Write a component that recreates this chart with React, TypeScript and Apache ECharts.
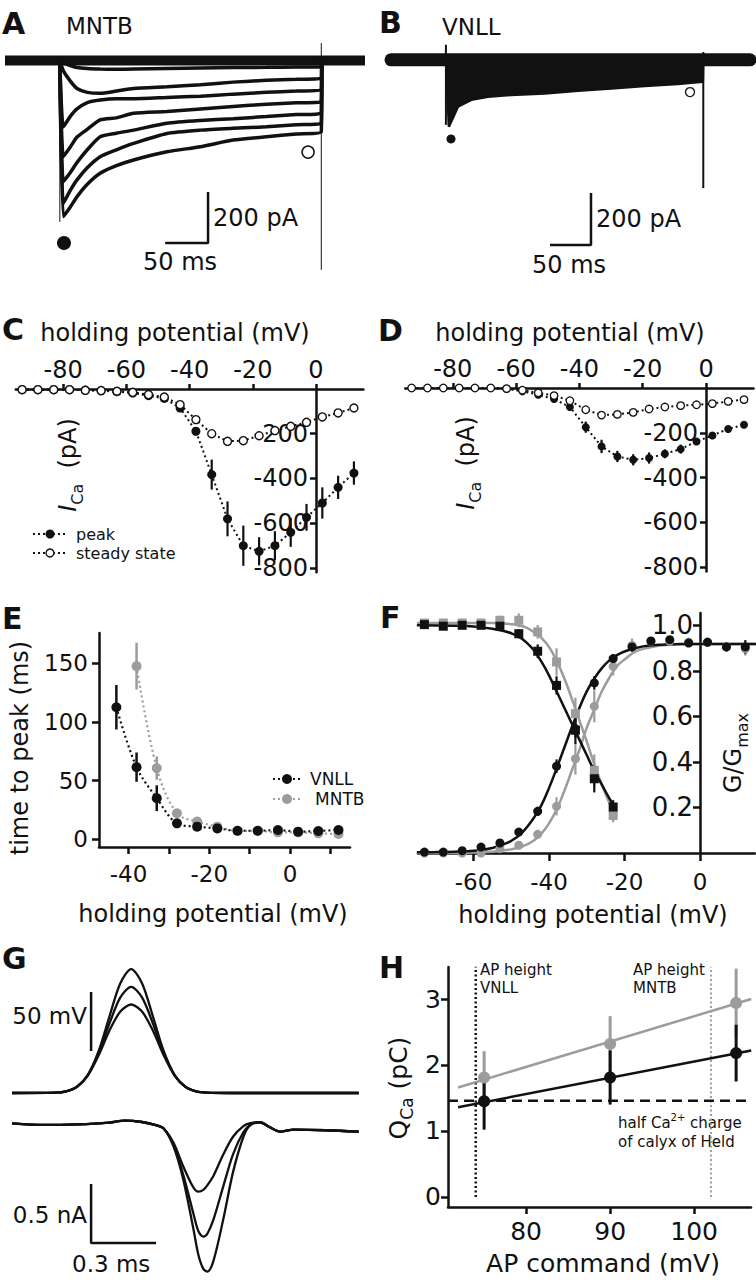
import React, { useEffect, useRef } from "react";
import * as echarts from "echarts";

const FONT = "DejaVu Sans";
const BLACK = "#111111";
const GRAY = "#9c9c9c";

// ---------- Panel A: MNTB current traces (ms, pA) ----------
const aStepTimes = [64, 68, 76, 84, 96, 111, 130, 150, 189, 228, 266, 305, 340, 369];
const aTrace1 = [0, -10, -20, -28, -32, -34, -35, -34, -32, -30, -28, -27, -26, -25];
const aTrace2 = [0, -40, -80, -110, -125, -129, -120, -110, -103, -95, -85, -78, -74, -70];
const aTrace3 = [0, -260, -220, -190, -165, -155, -150, -150, -145, -140, -132, -125, -120, -116];
const aTrace4 = [0, -377, -340, -300, -270, -233, -225, -207, -200, -190, -180, -172, -166, -162];
const aTrace5 = [0, -475, -440, -400, -350, -299, -285, -273, -246, -235, -228, -220, -212, -207];
const aTrace6 = [0, -560, -510, -468, -420, -377, -350, -325, -286, -273, -266, -260, -252, -246];
const aTrace7 = [0, -612, -575, -534, -485, -442, -412, -390, -358, -338, -312, -299, -288, -279];
const aBaseT = [0, 420];
const aOffArtifactI = [68, -820];
const aPeakMark = [68.8, -715];
const aSteadyMark = [353.6, -359];
const aScaleT = [186.9, 236.9, 236.9];
const aScaleI = [-715, -715, -515];

// ---------- Panel B: VNLL current traces ----------
const bEnvT = [67, 70.6, 81.7, 98, 118.4, 146.8, 187.6, 228.2, 268.9, 309.5, 350, 380.5, 381];
const bEnvI = [0, -257, -180, -154, -142, -135, -129, -119, -110, -101, -93, -84, 0];
const bGapT = [70.6, 133, 70.6];
const bGapI = [-40, -40, -90];
const bBaseT = [0, 438];
const bOnArtifactI = [58, -250];
const bOffArtifactI = [30, -493];
const bOnT = 67;
const bOffT = 381;
const bPeakMark = [73.2, -304];
const bSteadyMark = [364.8, -124];
const bScaleT = [194, 244, 244];
const bScaleI = [-712, -712, -512];

// ---------- Panels C / D: I-V curves ----------
const ivV = [-93, -88, -83, -78, -73, -68, -63, -58, -53, -48, -43, -38, -33, -28, -23, -18, -13, -8, -3, 2, 7, 12];
const cSteady = [-3, -3, -3, -3, -6, -7, -10, -15, -25, -36, -70, -137, -200, -234, -231, -209, -186, -167, -149, -125, -107, -85];
const cPeak = [-3, -3, -3, -3, -5, -8, -12, -18, -30, -42, -85, -189, -383, -581, -701, -726, -701, -641, -574, -510, -440, -376];
const cPeakErr = [0, 0, 0, 0, 0, 0, 0, 0, 0, 0, 10, 18, 67, 78, 90, 63, 65, 65, 60, 70, 52, 52];
const dSteady = [0, 0, 0, 0, 0, 0, -3, -10, -22, -34, -57, -97, -121, -118, -109, -94, -85, -79, -75, -70, -60, -52];
const dPeak = [0, 0, 0, 0, 0, 0, -3, -15, -30, -49, -85, -175, -261, -306, -321, -313, -294, -273, -239, -212, -183, -164];
const dPeakErr = [0, 0, 0, 0, 0, 0, 0, 0, 0, 0, 10, 25, 30, 25, 25, 25, 20, 20, 15, 15, 10, 10];
const ivTicks = [-80, -60, -40, -20, 0];
const ivYTicks = [-200, -400, -600, -800];

// ---------- Panel E: time to peak ----------
const eVnllV = [-43, -38, -33, -28, -23, -18, -13, -8, -3, 2, 7, 12];
const eVnll = [112.6, 61.4, 34.9, 13.4, 10.6, 9.1, 7.1, 7.1, 7.7, 6.3, 6.9, 7.7];
const eVnllErr = [19, 12.5, 11, 2, 2, 1, 1, 1, 1, 1, 1, 1];
const eMntbV = [-38, -33, -28, -23, -18, -13, -8, -3, 2, 7, 12];
const eMntb = [147.7, 60.6, 22, 14.9, 10.6, 7, 7, 5.7, 5.7, 4.9, 4.3];
const eMntbErr = [20, 10, 3, 2, 2, 1, 1, 1, 1, 1, 1];
const eXLabels = [-40, -20, 0];
const eXTicks = [-40, -30, -20, -10, 0, 10];
const eYTicks = [0, 50, 100, 150];

// ---------- Panel F: activation / inactivation ----------
const fActV = [-73, -68, -63, -58, -53, -48, -43, -38, -33, -28, -23, -18, -13, -8, -3, 2, 7, 12];
const fActVnll = [0.004, 0.004, 0.01, 0.026, 0.044, 0.092, 0.183, 0.381, 0.546, 0.747, 0.854, 0.905, 0.931, 0.937, 0.922, 0.925, 0.905, 0.905];
const fActVnllErr = [0, 0, 0, 0, 0, 0.01, 0.02, 0.03, 0.04, 0.03, 0.02, 0.02, 0.01, 0.01, 0.01, 0.01, 0.02, 0.03];
const fActMntb = [0, 0, 0, 0, 0.019, 0.034, 0.082, 0.205, 0.414, 0.644, 0.82, 0.912, 0.93, 0.93, 0.927, 0.927, 0.905, 0.897];
const fActMntbErr = [0, 0, 0, 0, 0, 0.01, 0.02, 0.04, 0.07, 0.07, 0.04, 0.03, 0.02, 0.02, 0.01, 0.02, 0.02, 0.03];
const fInactV = [-73, -68, -63, -58, -53, -48, -43, -38, -33, -28, -23];
const fInactVnll = [1.003, 0.996, 1.0, 1.0, 0.996, 0.963, 0.886, 0.736, 0.539, 0.326, 0.202];
const fInactVnllErr = [0, 0, 0, 0, 0.01, 0.02, 0.03, 0.04, 0.06, 0.06, 0.03];
const fInactMntb = [1.01, 1.01, 1.01, 1.01, 1.022, 1.022, 0.971, 0.839, 0.612, 0.363, 0.165];
const fInactMntbErr = [0, 0, 0, 0, 0.02, 0.03, 0.03, 0.06, 0.07, 0.07, 0.03];
const fFitActV = [-75, -70, -65, -60, -55, -50, -47, -44, -42, -40, -38, -36, -34, -32, -30, -28, -26, -24, -22, -20, -17, -14, -10, -5, 0, 5, 10, 15];
const fFitActVnll = [0.003, 0.004, 0.006, 0.01, 0.022, 0.053, 0.092, 0.155, 0.21, 0.285, 0.37, 0.46, 0.55, 0.635, 0.71, 0.766, 0.812, 0.846, 0.869, 0.885, 0.9, 0.91, 0.915, 0.918, 0.918, 0.918, 0.918, 0.918];
const fFitActMntb = [0, 0, 0, 0.002, 0.005, 0.016, 0.029, 0.055, 0.085, 0.13, 0.19, 0.27, 0.36, 0.45, 0.55, 0.63, 0.71, 0.77, 0.82, 0.85, 0.885, 0.9, 0.912, 0.917, 0.918, 0.918, 0.918, 0.918];
const fFitInactV = [-75, -65, -60, -55, -52, -50, -48, -46, -44, -42, -40, -38, -36, -34, -32, -30, -28, -26, -24, -22.5];
const fFitInactVnll = [1.0, 0.998, 0.995, 0.985, 0.975, 0.965, 0.95, 0.925, 0.89, 0.84, 0.78, 0.71, 0.64, 0.57, 0.5, 0.43, 0.36, 0.3, 0.24, 0.2];
const fFitInactMntb = [1.01, 1.01, 1.01, 1.01, 1.008, 1.005, 1.0, 0.99, 0.97, 0.945, 0.905, 0.845, 0.77, 0.68, 0.585, 0.49, 0.39, 0.3, 0.22, 0.17];
const fXTicks = [-60, -40, -20, 0];
const fYTicks = [0.2, 0.4, 0.6, 0.8, 1.0];

// ---------- Panel G: AP commands and Ca currents ----------
const gApT = [0, 0.2, 0.25, 0.3, 0.35, 0.4, 0.45, 0.5, 0.55, 0.6, 0.65, 0.7, 0.75, 0.8, 0.85, 0.9, 1.0, 1.6];
const gAp105 = [0, 0.3, 1.4, 5.3, 15.4, 35.6, 65, 93, 105, 93, 65, 35.6, 15.4, 5.3, 1.4, 0.3, 0, 0];
const gAp90 = [0, 0.3, 1.4, 5.3, 15.2, 34, 59, 81, 90, 81, 59, 34, 15.2, 5.3, 1.4, 0.3, 0, 0];
const gAp75 = [0, 0.3, 1.4, 5.2, 14.8, 32, 53, 69, 75, 69, 53, 32, 14.8, 5.2, 1.4, 0.3, 0, 0];
const gCaT = [0, 0.15, 0.3, 0.45, 0.52, 0.6, 0.66, 0.7, 0.745, 0.79, 0.837, 0.86, 0.883, 0.902, 0.93, 0.975, 1.02, 1.068, 1.1, 1.144, 1.19, 1.237, 1.3, 1.45, 1.6];
const gCaSmall = [0.014, 0, 0.005, 0.02, 0.037, 0.025, 0, -0.03, -0.15, -0.35, -0.53, -0.565, -0.55, -0.51, -0.43, -0.25, -0.1, -0.01, 0.015, 0.023, -0.02, -0.057, -0.04, -0.045, -0.057];
const gCaMid = [0.014, 0, 0.005, 0.02, 0.037, 0.025, 0, -0.03, -0.17, -0.42, -0.75, -0.9, -0.947, -0.92, -0.8, -0.52, -0.25, -0.06, 0, 0.023, -0.02, -0.057, -0.04, -0.045, -0.057];
const gCaBig = [0.014, 0, 0.005, 0.02, 0.037, 0.025, 0, -0.03, -0.18, -0.46, -0.88, -1.1, -1.22, -1.243, -1.15, -0.8, -0.4, -0.1, 0, 0.023, -0.02, -0.057, -0.04, -0.045, -0.057];
const gApScaleT = [0.365, 0.365];
const gApScaleV = [85.6, 35.6];
const gCaScaleT = [0.365, 0.365, 0.665];
const gCaScaleI = [-0.5, -1.0, -1.0];

// ---------- Panel H: Ca charge vs AP command ----------
const hCmd = [75, 90, 105];
const hMntb = [1.81, 2.32, 2.94];
const hMntbErr = [0.4, 0.42, 0.52];
const hVnll = [1.45, 1.81, 2.18];
const hVnllErr = [0.43, 0.41, 0.43];
const hFitX = [71.9, 106.8];
const hFitMntb = [1.66, 3.0];
const hFitVnll = [1.36, 2.22];
const hHalfX = [70.7, 106.8];
const hHalfCharge = [1.46, 1.46];
const hApHeightVnll = 74;
const hApHeightMntb = 102;
const hApLineY = [0, 3.49];
const hXTicks = [80, 90, 100];
const hYTicks = [0, 1, 2, 3];

const zip = (xs: number[], ys: number[]) => xs.map((x, i) => [x, ys[i]]);
const errData = (xs: number[], ys: number[], es: number[]) =>
  xs.map((x, i) => [x, ys[i] - es[i], ys[i] + es[i], es[i]]).filter((d) => d[3] > 0);

const lineS = (idx: number, data: any[], color: string, width: number, extra: any = {}) => ({
  type: "line",
  xAxisIndex: idx,
  yAxisIndex: idx,
  data,
  symbol: "none",
  silent: true,
  clip: false,
  lineStyle: { color, width, ...(extra.lineStyle || {}) },
  ...Object.fromEntries(Object.entries(extra).filter(([k]) => k !== "lineStyle")),
});

const errS = (idx: number, data: any[], color: string, width: number) => ({
  type: "custom",
  xAxisIndex: idx,
  yAxisIndex: idx,
  data,
  silent: true,
  encode: { x: 0, y: [1, 2] },
  renderItem: (_p: any, api: any) => {
    const a = api.coord([api.value(0), api.value(1)]);
    const b = api.coord([api.value(0), api.value(2)]);
    return { type: "line", shape: { x1: a[0], y1: a[1], x2: b[0], y2: b[1] }, style: { stroke: color, lineWidth: width } };
  },
});

const markerLine = (idx: number, data: any[], opts: any) => ({
  type: "line",
  xAxisIndex: idx,
  yAxisIndex: idx,
  data,
  silent: true,
  clip: false,
  symbol: opts.symbol || "circle",
  symbolSize: opts.size,
  showSymbol: true,
  itemStyle: { color: opts.fill, borderColor: opts.stroke || opts.fill, borderWidth: opts.bw || 0 },
  lineStyle: opts.line ? { color: opts.line, width: opts.lw || 2, type: opts.dash || "solid" } : { width: 0, opacity: 0 },
  smooth: opts.smooth || false,
});

const hidden = (gridIndex: number, min: number, max: number) => ({ type: "value", gridIndex, min, max, show: false });

const axisLineStyle = { color: BLACK, width: 2.5 };
const shownAxis = (gridIndex: number, min: number, max: number, o: any) => ({
  type: "value",
  gridIndex,
  min,
  max,
  position: o.position,
  splitLine: { show: false },
  axisLine: { show: true, onZero: false, lineStyle: axisLineStyle },
  axisTick: { show: true, length: o.tickLen || 6, customValues: o.ticks, lineStyle: { color: BLACK, width: 2.5 } },
  axisLabel: {
    show: true,
    customValues: o.labels || o.ticks,
    color: BLACK,
    fontFamily: FONT,
    fontSize: o.fontSize || 24,
    margin: o.margin || 8,
    formatter: o.formatter,
  },
});

const txt = (x: number, y: number, text: string, fontSize: number, extra: any = {}, el: any = {}) => ({
  type: "text",
  x,
  y,
  silent: true,
  ...el,
  style: { text, fontSize, fontFamily: FONT, fill: BLACK, align: "left", verticalAlign: "middle", ...extra },
});

const letter = (x: number, y: number, t: string) => txt(x, y, t, 30, { fontWeight: "bold" });

const subRich = (size: number) => ({
  i: { fontSize: size, fontStyle: "italic", fontFamily: FONT, lineHeight: 34, verticalAlign: "middle", fill: BLACK },
  n: { fontSize: size, fontFamily: FONT, lineHeight: 34, verticalAlign: "middle", fill: BLACK },
  s: { fontSize: Math.round(size * 0.68), fontFamily: FONT, lineHeight: 34, verticalAlign: "bottom", fill: BLACK },
});

export default function App() {
  const ref = useRef<HTMLDivElement>(null);
  useEffect(() => {
    if (!ref.current) return;
    const chart = echarts.init(ref.current, undefined, { renderer: "svg" });

    const grid = [
      { left: 5, top: 40, width: 360, height: 240 }, // 0 A
      { left: 391, top: 39, width: 359, height: 242 }, // 1 B
      { left: 15.8, top: 389, width: 347.6, height: 183.3 }, // 2 C
      { left: 405.3, top: 388, width: 348.2, height: 183.5 }, // 3 D
      { left: 99, top: 633, width: 251, height: 214 }, // 4 E
      { left: 418, top: 613, width: 337, height: 240 }, // 5 F
      { left: 12, top: 960, width: 346.7, height: 140 }, // 6 G AP
      { left: 12, top: 1105, width: 346.7, height: 175 }, // 7 G current
      { left: 448, top: 967, width: 303, height: 240 }, // 8 H
      { left: 316, top: 389, width: 40, height: 183.3 }, // 9 C y-axis at V = 0
      { left: 706, top: 388, width: 40, height: 183.5 }, // 10 D y-axis at V = 0
      { left: 700, top: 613, width: 50, height: 240 }, // 11 F y-axis at V = 0
    ];

    const xAxis = [
      hidden(0, 0, 420),
      hidden(1, 0, 438),
      shownAxis(2, -95, 15, { position: "top", ticks: ivTicks, margin: 7, tickLen: 5 }),
      shownAxis(3, -95, 15, { position: "top", ticks: ivTicks, margin: 7, tickLen: 5 }),
      shownAxis(4, -47.3, 14.85, { position: "bottom", ticks: eXTicks, labels: eXLabels, fontSize: 23, margin: 15, tickLen: 7 }),
      shownAxis(5, -74.7, 14.57, { position: "bottom", ticks: fXTicks, fontSize: 23, margin: 17, tickLen: 8 }),
      hidden(6, 0, 1.6),
      hidden(7, 0, 1.6),
      shownAxis(8, 70.7, 106.77, { position: "bottom", ticks: hXTicks, fontSize: 25, margin: 12, tickLen: 7 }),
      hidden(9, 0, 1),
      hidden(10, 0, 1),
      hidden(11, 0, 1),
    ];
    const yAxis = [
      hidden(0, -860, 80),
      hidden(1, -850, 80),
      hidden(2, -820, 0),
      hidden(3, -820, 0),
      shownAxis(4, -6.8, 176, { position: "left", ticks: eYTicks, fontSize: 23, margin: 11, tickLen: 7 }),
      hidden(5, 0, 1.054),
      hidden(6, -5.93, 112.7),
      hidden(7, -1.314, 0.169),
      shownAxis(8, -0.152, 3.485, { position: "left", ticks: hYTicks, fontSize: 25, margin: 7, tickLen: 7 }),
      shownAxis(9, -820, 0, { position: "left", ticks: ivYTicks, margin: 8 }),
      shownAxis(10, -820, 0, { position: "left", ticks: ivYTicks, margin: 8 }),
      shownAxis(11, 0, 1.054, { position: "left", ticks: fYTicks, fontSize: 26, margin: 7, tickLen: 7, formatter: (v: number) => v.toFixed(1) }),
    ];

    const dotted = [2, 3];
    const series: any[] = [];

    // ----- A -----
    series.push(lineS(0, zip(aBaseT, [0, 0]), BLACK, 10));
    [aTrace1, aTrace2, aTrace3, aTrace4, aTrace5, aTrace6, aTrace7].forEach((tr) => {
      series.push(lineS(0, zip(aStepTimes, tr).concat([[aStepTimes[aStepTimes.length - 1] + 0.5, 0]]), BLACK, 3.5, { smooth: 0.2 }));
    });
    series.push(lineS(0, [[aStepTimes[0], 0], [aStepTimes[0], aTrace7[1] - 20]], BLACK, 1));
    series.push(lineS(0, [[aStepTimes[aStepTimes.length - 1], aOffArtifactI[0]], [aStepTimes[aStepTimes.length - 1], aOffArtifactI[1]]], BLACK, 1));
    series.push(markerLine(0, [aPeakMark], { fill: BLACK, size: 14 }));
    series.push(markerLine(0, [aSteadyMark], { fill: "#fff", stroke: BLACK, bw: 1.5, size: 12 }));
    series.push(lineS(0, zip(aScaleT, aScaleI), BLACK, 2.5));

    // ----- B -----
    series.push(lineS(1, zip(bEnvT, bEnvI), BLACK, 2.5, { areaStyle: { color: BLACK, opacity: 1, origin: 0 } }));
    series.push({
      type: "custom",
      xAxisIndex: 1,
      yAxisIndex: 1,
      data: [[bGapT[0], bGapI[0]]],
      silent: true,
      renderItem: (_p: any, api: any) => ({
        type: "polygon",
        shape: { points: bGapT.map((t, i) => api.coord([t, bGapI[i]])) },
        style: { fill: "#fff" },
      }),
    });
    series.push(lineS(1, zip(bBaseT, [0, 0]), BLACK, 13, { lineStyle: { cap: "round" } }));
    series.push(lineS(1, [[bOnT, bOnArtifactI[0]], [bOnT, bOnArtifactI[1]]], BLACK, 2));
    series.push(lineS(1, [[bOffT, bOffArtifactI[0]], [bOffT, bOffArtifactI[1]]], BLACK, 2));
    series.push(markerLine(1, [bPeakMark], { fill: BLACK, size: 9 }));
    series.push(markerLine(1, [bSteadyMark], { fill: "#fff", stroke: BLACK, bw: 1.3, size: 9 }));
    series.push(lineS(1, zip(bScaleT, bScaleI), BLACK, 2.5));

    // ----- C -----
    series.push(errS(2, errData(ivV, cPeak, cPeakErr), BLACK, 2.2));
    series.push(markerLine(2, zip(ivV, cPeak), { fill: BLACK, size: 9, line: BLACK, lw: 2, dash: dotted }));
    series.push(markerLine(2, zip(ivV, cSteady), { fill: "#fff", stroke: BLACK, bw: 1.4, size: 8, line: BLACK, lw: 2, dash: dotted }));

    // ----- D -----
    series.push(errS(3, errData(ivV, dPeak, dPeakErr), BLACK, 2.2));
    series.push(markerLine(3, zip(ivV, dPeak), { fill: BLACK, size: 8, line: BLACK, lw: 2, dash: dotted }));
    series.push(markerLine(3, zip(ivV, dSteady), { fill: "#fff", stroke: BLACK, bw: 1.3, size: 7.5, line: BLACK, lw: 2, dash: dotted }));

    // ----- E -----
    series.push(errS(4, errData(eMntbV, eMntb, eMntbErr), GRAY, 2.5));
    series.push(markerLine(4, zip(eMntbV, eMntb), { fill: GRAY, size: 10, line: GRAY, lw: 2.2, dash: dotted, smooth: 0.35 }));
    series.push(errS(4, errData(eVnllV, eVnll, eVnllErr), BLACK, 2.5));
    series.push(markerLine(4, zip(eVnllV, eVnll), { fill: BLACK, size: 10, line: BLACK, lw: 2.2, dash: dotted, smooth: 0.35 }));

    // ----- F -----
    series.push(lineS(5, zip(fFitActV, fFitActMntb), GRAY, 2.5, { smooth: 0.4 }));
    series.push(lineS(5, zip(fFitInactV, fFitInactMntb), GRAY, 2.5, { smooth: 0.4 }));
    series.push(errS(5, errData(fActV, fActMntb, fActMntbErr), GRAY, 2.2));
    series.push(errS(5, errData(fInactV, fInactMntb, fInactMntbErr), GRAY, 2.2));
    series.push(markerLine(5, zip(fActV, fActMntb), { fill: GRAY, size: 9 }));
    series.push(markerLine(5, zip(fInactV, fInactMntb), { fill: GRAY, size: 9, symbol: "rect" }));
    series.push(lineS(5, zip(fFitActV, fFitActVnll), BLACK, 2.5, { smooth: 0.4 }));
    series.push(lineS(5, zip(fFitInactV, fFitInactVnll), BLACK, 2.5, { smooth: 0.4 }));
    series.push(errS(5, errData(fActV, fActVnll, fActVnllErr), BLACK, 2.2));
    series.push(errS(5, errData(fInactV, fInactVnll, fInactVnllErr), BLACK, 2.2));
    series.push(markerLine(5, zip(fActV, fActVnll), { fill: BLACK, size: 9 }));
    series.push(markerLine(5, zip(fInactV, fInactVnll), { fill: BLACK, size: 9, symbol: "rect" }));

    // ----- G -----
    [gAp75, gAp90, gAp105].forEach((ap) => series.push(lineS(6, zip(gApT, ap), BLACK, 2.3, { smooth: 0.3 })));
    series.push(lineS(6, zip(gApScaleT, gApScaleV), BLACK, 2.5));
    [gCaSmall, gCaMid, gCaBig].forEach((c) => series.push(lineS(7, zip(gCaT, c), BLACK, 2.3, { smooth: 0.3 })));
    series.push(lineS(7, zip(gCaScaleT, gCaScaleI), BLACK, 2.5));

    // ----- H -----
    series.push(lineS(8, [[hApHeightVnll, hApLineY[0]], [hApHeightVnll, hApLineY[1]]], BLACK, 2.5, { lineStyle: { type: [2, 2.5] } }));
    series.push(lineS(8, [[hApHeightMntb, hApLineY[0]], [hApHeightMntb, hApLineY[1]]], GRAY, 2, { lineStyle: { type: [2, 2.5] } }));
    series.push(lineS(8, zip(hHalfX, hHalfCharge), BLACK, 2.5, { lineStyle: { type: [10, 6] } }));
    series.push(lineS(8, zip(hFitX, hFitMntb), GRAY, 2.5));
    series.push(errS(8, errData(hCmd, hMntb, hMntbErr), GRAY, 3));
    series.push(markerLine(8, zip(hCmd, hMntb), { fill: GRAY, size: 12 }));
    series.push(lineS(8, zip(hFitX, hFitVnll), BLACK, 2.5));
    series.push(errS(8, errData(hCmd, hVnll, hVnllErr), BLACK, 3));
    series.push(markerLine(8, zip(hCmd, hVnll), { fill: BLACK, size: 12 }));

    const graphic: any[] = [
      letter(2, 23, "A"),
      txt(66, 26, "MNTB", 23),
      txt(213, 218, "200 pA", 24),
      txt(143, 262, "50 ms", 24),
      letter(379, 22, "B"),
      txt(442, 27, "VNLL", 23),
      txt(596, 219, "200 pA", 24),
      txt(532, 265, "50 ms", 24),

      letter(2, 329, "C"),
      txt(175, 333, "holding potential (mV)", 24, { align: "center" }),
      txt(68, 465, "{i|I}{s|Ca}{n|  (pA)}", 24, { align: "center", rich: subRich(24) }, { rotation: Math.PI / 2 }),
      { type: "line", silent: true, shape: { x1: 33, y1: 534, x2: 67, y2: 534 }, style: { stroke: BLACK, lineWidth: 2, lineDash: dotted } },
      { type: "circle", silent: true, shape: { cx: 50, cy: 534, r: 4.5 }, style: { fill: BLACK } },
      txt(76, 534, "peak", 16),
      { type: "line", silent: true, shape: { x1: 33, y1: 553, x2: 67, y2: 553 }, style: { stroke: BLACK, lineWidth: 2, lineDash: dotted } },
      { type: "circle", silent: true, shape: { cx: 50, cy: 553, r: 4 }, style: { fill: "#fff", stroke: BLACK, lineWidth: 1.4 } },
      txt(76, 553, "steady state", 16),

      letter(378, 330, "D"),
      txt(570, 333, "holding potential (mV)", 24, { align: "center" }),
      txt(466, 463, "{i|I}{s|Ca}{n|  (pA)}", 24, { align: "center", rich: subRich(24) }, { rotation: Math.PI / 2 }),

      letter(2, 618, "E"),
      txt(20, 748, "time to peak (ms)", 24, { align: "center" }, { rotation: Math.PI / 2 }),
      txt(213, 914, "holding potential (mV)", 24, { align: "center" }),
      { type: "line", silent: true, shape: { x1: 273, y1: 779, x2: 303, y2: 779 }, style: { stroke: BLACK, lineWidth: 2.2, lineDash: dotted } },
      { type: "circle", silent: true, shape: { cx: 287, cy: 779, r: 5 }, style: { fill: BLACK } },
      txt(310, 779, "VNLL", 17),
      { type: "line", silent: true, shape: { x1: 273, y1: 799, x2: 303, y2: 799 }, style: { stroke: GRAY, lineWidth: 2.2, lineDash: dotted } },
      { type: "circle", silent: true, shape: { cx: 287, cy: 799, r: 5 }, style: { fill: GRAY } },
      txt(315, 799, "MNTB", 17),

      letter(380, 617, "F"),
      txt(733, 753, "{n|G/G}{s|max}", 24, { align: "center", rich: subRich(24) }, { rotation: Math.PI / 2 }),
      txt(593, 915, "holding potential (mV)", 24, { align: "center" }),

      letter(2, 958, "G"),
      txt(87, 1016, "50 mV", 23, { align: "right" }),
      txt(87, 1215, "0.5 nA", 23, { align: "right" }),
      txt(72, 1264, "0.3 ms", 23),

      letter(379, 967, "H"),
      txt(398, 1088, "{n|Q}{s|Ca}{n| (pC)}", 25, { align: "center", rich: subRich(25) }, { rotation: Math.PI / 2 }),
      txt(603, 1263, "AP command (mV)", 25, { align: "center" }),
      txt(480, 970, "AP height", 15),
      txt(480, 988, "VNLL", 15),
      txt(633, 970, "AP height", 15),
      txt(633, 988, "MNTB", 15),
      txt(618, 1123, "{n|half Ca}{p|2+}{n| charge}", 15, {
        rich: {
          n: { fontSize: 15, fontFamily: FONT, lineHeight: 22, verticalAlign: "middle", fill: BLACK },
          p: { fontSize: 10, fontFamily: FONT, lineHeight: 22, verticalAlign: "top", fill: BLACK },
        },
      }),
      txt(618, 1142, "of calyx of Held", 15),
    ];

    chart.setOption({
      animation: false,
      backgroundColor: "#ffffff",
      textStyle: { fontFamily: FONT },
      grid,
      xAxis,
      yAxis,
      series,
      graphic,
    });
    return () => chart.dispose();
  }, []);

  return (
    <div
      ref={ref}
      style={{ position: "absolute", left: 0, top: 0, width: 756, height: 1280, background: "#fff" }}
    />
  );
}
